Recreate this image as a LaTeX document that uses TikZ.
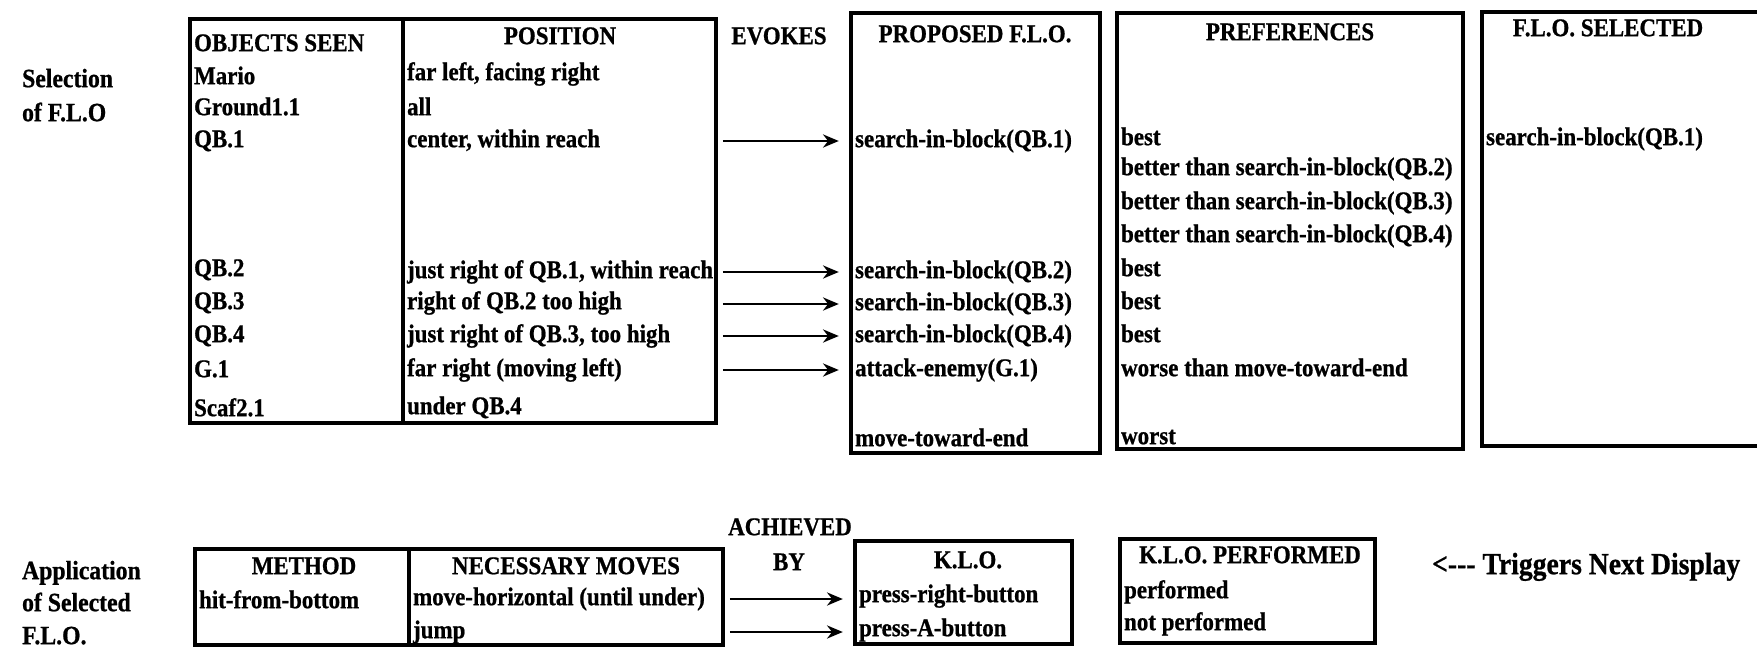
\documentclass[tikz,border=0pt]{standalone}
\usepackage{fontspec}
\setmainfont{Liberation Serif}[FakeStretch=0.9, BoldFeatures={FakeBold=0.8}]
\usepackage{tikz}
\usetikzlibrary{arrows,arrows.meta,positioning,fit,calc}

\begin{document}
\begin{tikzpicture}[
    x=0.2mm, y=-0.2mm,
    box/.style={draw, line width=1.9pt, inner sep=0pt},
    cell/.style={anchor=west, inner sep=1pt, text height=10pt, text depth=3pt, font=\bfseries\fontsize{14.5}{16}\selectfont},
    hdr/.style={cell, anchor=center},
    side/.style={cell, font=\bfseries\fontsize{15}{17}\selectfont},
    arr/.style={-{Stealth[length=9pt, width=7.5pt]}, line width=1.2pt, shorten <=3pt, shorten >=6pt},
]
\useasboundingbox (0,0) rectangle (1757,649);
\clip (0,0) rectangle (1757,649);

% Side labels
\node[side] (sel1) at (20,81) {Selection};
\node[side] (sel2) at (20,115) {of F.L.O};
\node[side] (app1) at (20,573) {Application};
\node[side] (app2) at (20,605) {of Selected};
\node[side] (app3) at (20,638) {F.L.O.};

% Top: boxes
\node[box, fit={(190,19) (403,423)}] (objbox) {};
\node[box, fit={(403,19) (716,423)}] (posbox) {};
\node[box, fit={(851,13) (1100,453)}] (propbox) {};
\node[box, fit={(1117,13) (1463,449)}] (prefbox) {};
\node[box, fit={(1482,12) (1790,446)}] (selbox) {};

% Top: headers
\node[cell] (objhdr) at (192,45) {OBJECTS SEEN};
\node[hdr] (poshdr) at (560,38) {POSITION};
\node[hdr] (evokes) at (779,38) {EVOKES};
\node[hdr] (prophdr) at (975,36) {PROPOSED F.L.O.};
\node[hdr] (prefhdr) at (1290,34) {PREFERENCES};
\node[hdr] (selhdr) at (1608,30) {F.L.O. SELECTED};

% Objects seen
\node[cell] (obj1) at (192,78) {Mario};
\node[cell] (obj2) at (192,109) {Ground1.1};
\node[cell] (obj3) at (192,141) {QB.1};
\node[cell] (obj4) at (192,270) {QB.2};
\node[cell] (obj5) at (192,303) {QB.3};
\node[cell] (obj6) at (192,336) {QB.4};
\node[cell] (obj7) at (192,371) {G.1};
\node[cell] (obj8) at (192,410) {Scaf2.1};

% Positions
\node[cell] (pos1) at (405,74) {far left, facing right};
\node[cell] (pos2) at (405,109) {all};
\node[cell] (pos3) at (405,141) {center, within reach};
\node[cell] (pos4) at (405,272) {just right of QB.1, within reach};
\node[cell] (pos5) at (405,303) {right of QB.2 too high};
\node[cell] (pos6) at (405,336) {just right of QB.3, too high};
\node[cell] (pos7) at (405,370) {far right (moving left)};
\node[cell] (pos8) at (405,408) {under QB.4};

% Proposed F.L.O.
\node[cell] (prop1) at (853,141) {search-in-block(QB.1)};
\node[cell] (prop2) at (853,272) {search-in-block(QB.2)};
\node[cell] (prop3) at (853,304) {search-in-block(QB.3)};
\node[cell] (prop4) at (853,336) {search-in-block(QB.4)};
\node[cell] (prop5) at (853,370) {attack-enemy(G.1)};
\node[cell] (prop6) at (853,440) {move-toward-end};

% Preferences
\node[cell] (pref1) at (1119,139) {best};
\node[cell] (pref2) at (1119,169) {better than search-in-block(QB.2)};
\node[cell] (pref3) at (1119,203) {better than search-in-block(QB.3)};
\node[cell] (pref4) at (1119,236) {better than search-in-block(QB.4)};
\node[cell] (pref5) at (1119,270) {best};
\node[cell] (pref6) at (1119,303) {best};
\node[cell] (pref7) at (1119,336) {best};
\node[cell] (pref8) at (1119,370) {worse than move-toward-end};
\node[cell] (pref9) at (1119,438) {worst};

% F.L.O. selected
\node[cell] (sel) at (1484,139) {search-in-block(QB.1)};

% Evokes arrows
\draw[arr] (posbox.east |- prop1) -- (propbox.west |- prop1);
\draw[arr] (posbox.east |- prop2) -- (propbox.west |- prop2);
\draw[arr] (posbox.east |- prop3) -- (propbox.west |- prop3);
\draw[arr] (posbox.east |- prop4) -- (propbox.west |- prop4);
\draw[arr] (posbox.east |- prop5) -- (propbox.west |- prop5);

% Bottom: boxes
\node[box, fit={(195,549) (409,645)}] (methbox) {};
\node[box, fit={(409,549) (723,645)}] (movbox) {};
\node[box, fit={(855,541) (1072,644)}] (klobox) {};
\node[box, fit={(1120,539) (1375,643)}] (perfbox) {};

% Bottom: headers
\node[hdr] (methhdr) at (304,568) {METHOD};
\node[hdr] (movhdr) at (566,568) {NECESSARY MOVES};
\node[hdr] (ach1) at (790,529) {ACHIEVED};
\node[hdr] (ach2) at (789,564) {BY};
\node[hdr] (klohdr) at (968,562) {K.L.O.};
\node[hdr] (perfhdr) at (1250,557) {K.L.O. PERFORMED};

% Bottom: entries
\node[cell] (meth1) at (197,602) {hit-from-bottom};
\node[cell] (mov1) at (411,599) {move-horizontal (until under)};
\node[cell] (mov2) at (411,632) {jump};
\node[cell] (klo1) at (857,596) {press-right-button};
\node[cell] (klo2) at (857,630) {press-A-button};
\node[cell] (perf1) at (1122,592) {performed};
\node[cell] (perf2) at (1122,624) {not performed};
\node[side, font=\bfseries\fontsize{17.5}{19}\selectfont] (trig) at (1430,568) {<-{}-{}- Triggers Next Display};

% Achieved-by arrows
\draw[arr] (movbox.east |- mov1) -- (klobox.west |- mov1);
\draw[arr] (movbox.east |- mov2) -- (klobox.west |- mov2);
\end{tikzpicture}
\end{document}
